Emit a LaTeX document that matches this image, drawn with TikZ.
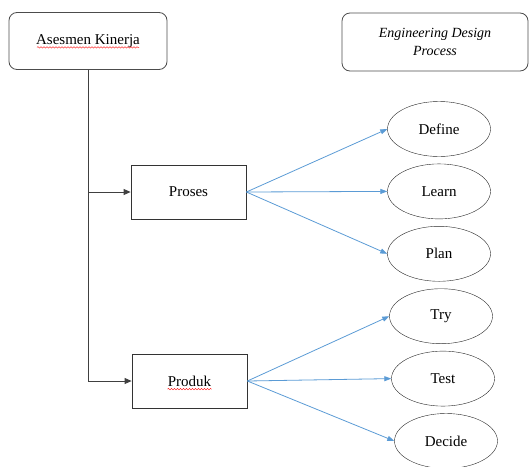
\documentclass[tikz,border=0pt]{standalone}
\usepackage{fontspec}
\setmainfont{Liberation Serif}
\usetikzlibrary{positioning}
\usetikzlibrary{shapes.geometric}
\usetikzlibrary{arrows.meta}
\usetikzlibrary{decorations.pathmorphing}

\begin{document}
\begin{tikzpicture}[
  x=1pt, y=-1pt,
  node distance=7pt and 2cm,
  every node/.style={font=\fontsize{15}{18}\selectfont},
  titlebox/.style={
    draw=black!70, rounded corners=8pt, thick,
    minimum width=158pt, minimum height=57pt, align=center
  },
  box/.style={draw=black!80, thick, minimum width=115pt, minimum height=54pt},
  phase/.style={draw=black!85, ellipse, minimum width=103pt, minimum height=55pt, inner sep=0pt},
  arrow/.style={-{Triangle[length=7pt,width=6pt]}, thick, black!75},
  link/.style={-{Triangle[length=7pt,width=5pt]}, thick, draw={rgb,255:red,91;green,155;blue,213}},
  spell/.style={red, thin, decorate, decoration={snake, amplitude=0.7pt, segment length=3pt}}
]
\useasboundingbox (0,0) rectangle (529,466);

% Boxes
\node[titlebox] (ak) at (88,41) {Asesmen Kinerja};
\node[titlebox, minimum width=186pt, minimum height=58pt,
      font=\fontsize{14}{18}\selectfont\itshape] (edp) at (435,42) {Engineering Design\\Process};
\node[box] (proses) at (188.5,192) {Proses};
\node[box] (produk) at (189.5,381) {Produk};

% Steps
\node[phase] (define) at (439,129) {Define};
\node[phase, below=of define] (learn) {Learn};
\node[phase, below=of learn] (plan) {Plan};
\node[phase, below=of plan, xshift=2pt] (try) {Try};
\node[phase, below=of try, xshift=2pt] (test) {Test};
\node[phase, below=of test, xshift=3pt] (decide) {Decide};

% Arrows
\draw[arrow] (ak.south) |- (produk.west);
\draw[arrow] (ak.south |- proses.west) -- (proses.west);
\draw[link] (proses.east) -- (define.west);
\draw[link] (proses.east) -- (learn.west);
\draw[link] (proses.east) -- (plan.west);
\draw[link] (produk.east) -- (try.west);
\draw[link] (produk.east) -- (test.west);
\draw[link] (produk.east) -- (decide.west);

% spelling marks
\draw[spell] ([xshift=-51pt,yshift=-3pt]ak.base) -- ([xshift=51pt,yshift=-3pt]ak.base);
\draw[spell] ([xshift=-22pt,yshift=-3pt]produk.base) -- ([xshift=22pt,yshift=-3pt]produk.base);
\end{tikzpicture}
\end{document}
